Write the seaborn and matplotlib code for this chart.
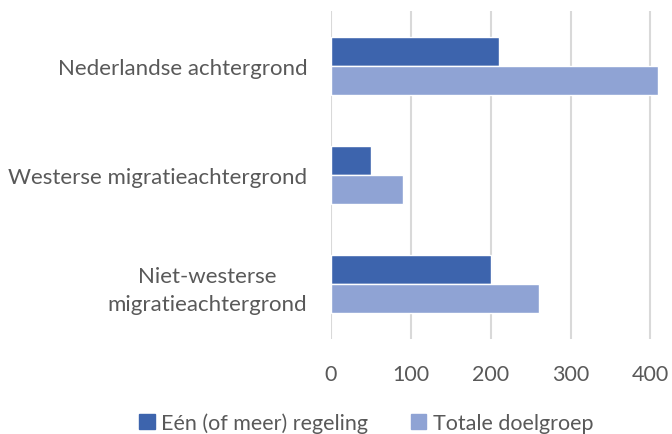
import matplotlib
matplotlib.use("Agg")
import matplotlib.pyplot as plt
import pandas as pd
import seaborn as sns

categories = ["Nederlandse achtergrond", "Westerse migratieachtergrond",
              "Niet-westerse\nmigratieachtergrond"]
series = ["Eén (of meer) regeling", "Totale doelgroep"]
een_regeling = [210, 50, 200]
totale_doelgroep = [410, 90, 260]
x_ticks = [0, 100, 200, 300, 400]

colors = ["#3D64AD", "#8FA3D4"]
text_color = "#595959"

df = pd.DataFrame({
    "categorie": categories * 2,
    "reeks": [series[0]] * 3 + [series[1]] * 3,
    "waarde": een_regeling + totale_doelgroep,
})

sns.set_style("white")
plt.rcParams["font.family"] = ["Lato", "DejaVu Sans"]

fig = plt.figure(figsize=(6.72, 4.35), dpi=100)
ax = fig.add_axes([331 / 672, 1 - 340 / 435, (672 - 331) / 672, 328 / 435])

sns.barplot(data=df, y="categorie", x="waarde", hue="reeks", order=categories,
            hue_order=series, palette=colors, width=0.53, orient="h",
            saturation=1, ax=ax, legend=False)

ax.set_xlim(0, 427)
ax.set_xticks(x_ticks)
ax.xaxis.grid(True, color="#D9D9D9", linewidth=1.5)
ax.set_axisbelow(True)
for s in ax.spines.values():
    s.set_visible(False)
ax.set_xlabel("")
ax.set_ylabel("")
ax.tick_params(axis="x", length=0, pad=18, labelsize=15.5, labelcolor=text_color)
ax.tick_params(axis="y", length=0, pad=17, labelsize=16, labelcolor=text_color)
for lbl in ax.get_yticklabels():
    lbl.set_multialignment("center")
    lbl.set_linespacing(1.45)

handles = [plt.Rectangle((0, 0), 1, 1, color=c) for c in colors]
fig.legend(handles, series, loc="center", bbox_to_anchor=(0.545, 1 - 424 / 435),
           ncol=2, frameon=False, fontsize=15.5, labelcolor=text_color,
           handlelength=0.7, handleheight=0.7, handletextpad=0.3,
           columnspacing=2.0)

fig.savefig("out.png", dpi=100)
